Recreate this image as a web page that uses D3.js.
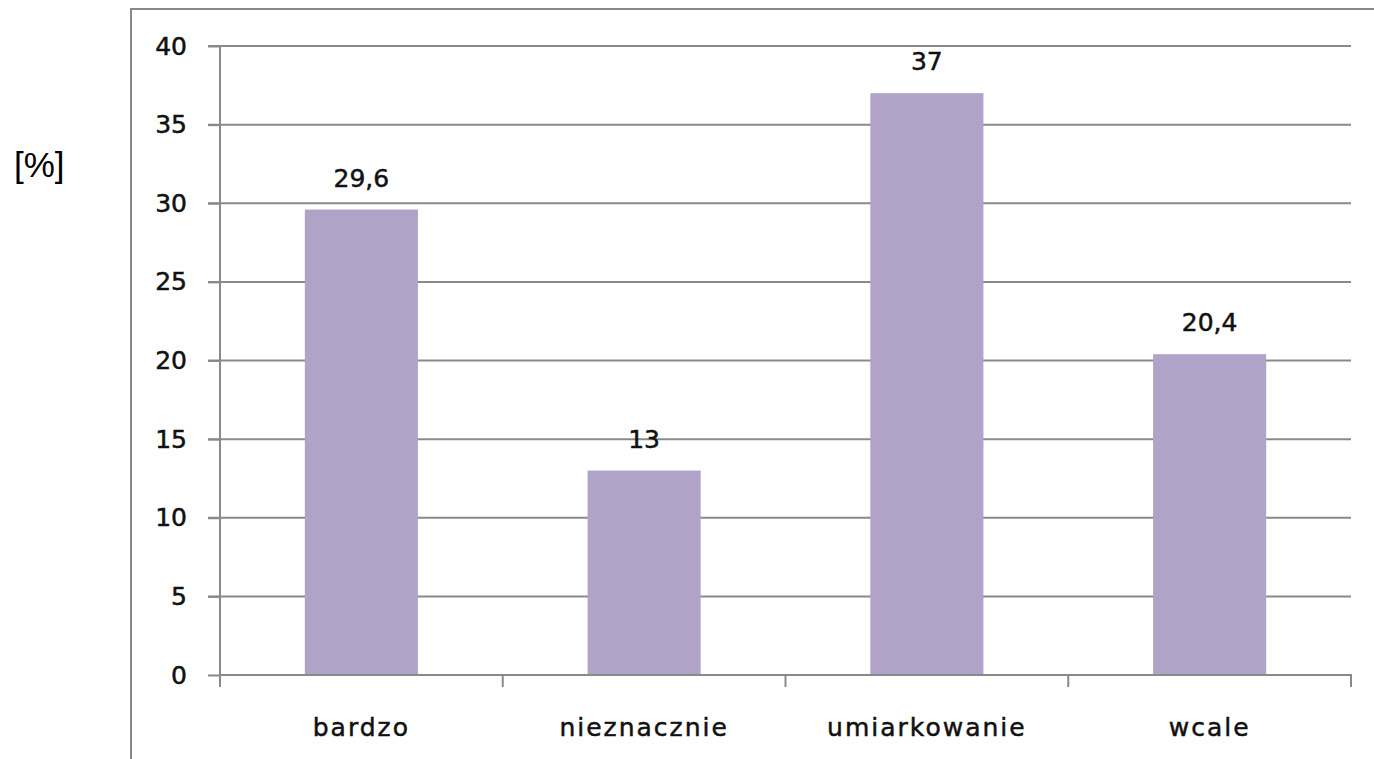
<!DOCTYPE html>
<html>
<head>
<meta charset="utf-8">
<script src="https://cdn.jsdelivr.net/npm/d3@7"></script>
<style>
  body { margin: 0; background: #fff; }
  text { font-family: "DejaVu Sans", Verdana, sans-serif; fill: #111; }
  .lbl { stroke: #111; stroke-width: 0.5px; }
</style>
</head>
<body>
<svg id="chart" width="1374" height="759"></svg>
<script>
const categories = ["bardzo", "nieznacznie", "umiarkowanie", "wcale"];
const values = [29.6, 13, 37, 20.4];
const valueLabels = ["29,6", "13", "37", "20,4"];
const yTicks = [0, 5, 10, 15, 20, 25, 30, 35, 40];

const margin = { top: 46, right: 23, bottom: 84, left: 220 },
    width = 1374 - margin.left - margin.right,
    height = 759 - margin.top - margin.bottom;

const root = d3.select("#chart");

// outer chart frame (runs off the right and bottom edges)
root.append("rect").attr("x", 131).attr("y", 9).attr("width", 1300).attr("height", 800)
    .attr("fill", "none").attr("stroke", "#888").attr("stroke-width", 2);

root.append("text").attr("x", 14).attr("y", 177).style("font-family", "'Liberation Sans', Arial, sans-serif")
    .style("font-size", "35px").style("fill", "#000").text("[%]");

const svg = root.append("g").attr("transform", `translate(${margin.left},${margin.top})`);

const x = d3.scaleBand().domain(categories).range([0, width]).paddingInner(0.6).paddingOuter(0.3);
const y = d3.scaleLinear().domain([0, 40]).range([height, 0]);

// gridlines
svg.selectAll("line.grid").data(yTicks.slice(1)).join("line").attr("class", "grid")
    .attr("x1", -12).attr("x2", width).attr("y1", d => y(d)).attr("y2", d => y(d))
    .attr("stroke", "#8a8a8a").attr("stroke-width", 2);

// bars
svg.selectAll("rect.bar").data(values).join("rect").attr("class", "bar")
    .attr("x", (d, i) => x(categories[i])).attr("y", d => y(d))
    .attr("width", x.bandwidth()).attr("height", d => y(0) - y(d))
    .attr("fill", "#b1a2c8");

// value labels
svg.selectAll("text.val").data(values).join("text").attr("class", "val lbl")
    .attr("x", (d, i) => x(categories[i]) + x.bandwidth() / 2).attr("y", d => y(d) - 23)
    .attr("text-anchor", "middle").style("font-size", "25px").text((d, i) => valueLabels[i]);

// y axis
const yAxis = svg.append("g").call(d3.axisLeft(y).tickValues(yTicks).tickSize(12).tickPadding(21));
yAxis.select(".domain").remove();
yAxis.selectAll(".tick line").attr("stroke", "#8a8a8a").attr("stroke-width", 2);
yAxis.selectAll(".tick text").attr("class", "lbl").style("font-size", "25px")
    .style("font-family", "'DejaVu Sans', Verdana, sans-serif").attr("fill", "#111");
svg.append("line").attr("x1", 0).attr("x2", 0).attr("y1", 0).attr("y2", height + 12)
    .attr("stroke", "#8a8a8a").attr("stroke-width", 2);

// x axis
const xAxis = svg.append("g").attr("transform", `translate(0,${height})`)
    .call(d3.axisBottom(x).tickSize(0).tickPadding(43));
xAxis.select(".domain").attr("stroke", "#8a8a8a").attr("stroke-width", 2).attr("d", `M0,0H${width}V12`);
xAxis.selectAll(".tick text").attr("class", "lbl").style("font-size", "25px").style("letter-spacing", "2px")
    .style("font-family", "'DejaVu Sans', Verdana, sans-serif").attr("fill", "#111");
svg.selectAll("line.xtick").data(d3.range(categories.length)).join("line").attr("class", "xtick")
    .attr("x1", d => d * x.step()).attr("x2", d => d * x.step())
    .attr("y1", height).attr("y2", height + 12)
    .attr("stroke", "#8a8a8a").attr("stroke-width", 2);
</script>
</body>
</html>
